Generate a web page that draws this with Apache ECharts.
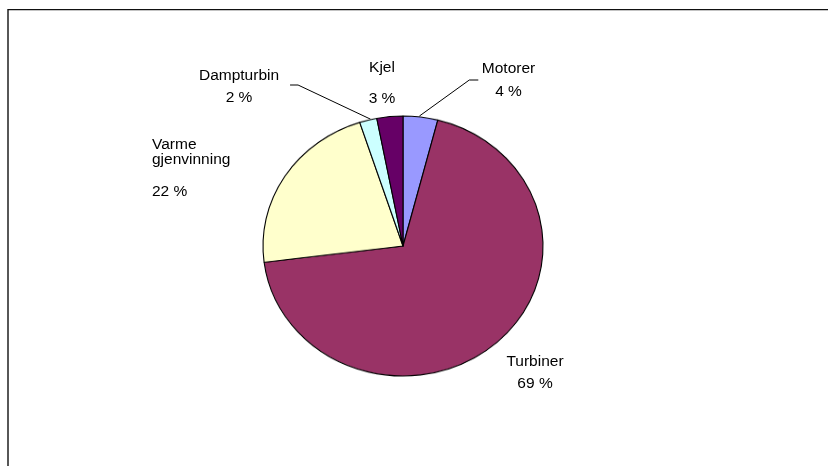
<!DOCTYPE html>
<html>
<head>
<meta charset="utf-8">
<script src="https://cdn.jsdelivr.net/npm/echarts@6/dist/echarts.min.js"></script>
<style>
  html, body { margin: 0; padding: 0; background: #ffffff; }
  #wrap { position: relative; width: 828px; height: 466px; overflow: hidden; }
  /* The sector layer is squeezed vertically so the pie becomes an ellipse */
  #pie { position: absolute; left: 0; top: 0; width: 828px; height: 466px;
         transform-origin: 403px 246px; transform: scaleY(0.9286); }
  #labels { position: absolute; left: 0; top: 0; width: 828px; height: 466px; }
</style>
</head>
<body>
<div id="wrap">
  <div id="pie"></div>
  <div id="labels"></div>
</div>
<script>
// Energy share by plant type, clockwise from 12 o'clock
const categories = ['Motorer', 'Turbiner', 'Varme gjenvinning', 'Dampturbin', 'Kjel'];
const shares = [4, 69, 22, 2, 3];
const colors = ['#9999FF', '#993366', '#FFFFCC', '#CCFFFF', '#660066'];

// Label placement (centre of text block), alignment, line spacing and leader side
const labelPlacement = [
  { x: 508.5, y: 80,    align: 'center', lh: [23.4, 23.4], leader: 'left' },
  { x: 535,   y: 372.5, align: 'center', lh: [21.7, 21.7] },
  { x: 152,   y: 176.5, align: 'left',   lh: [15, 49], width: 85 },
  { x: 239,   y: 86.5,  align: 'center', lh: [22, 22], leader: 'right' },
  { x: 382,   y: 83,    align: 'center', lh: [31, 31] }
];

const CX = 403, CY = 246;
const fontFamily = '"Liberation Sans", Arial, Helvetica, sans-serif';

// Sector layer
const pieChart = echarts.init(document.getElementById('pie'), null, { renderer: 'canvas' });
pieChart.setOption({
  animation: false,
  series: [{
    type: 'pie',
    center: [CX, CY],
    radius: 140,
    startAngle: 90,
    clockwise: true,
    silent: true,
    label: { show: false },
    labelLine: { show: false },
    itemStyle: { borderColor: '#000000', borderWidth: 1.1 },
    data: categories.map((name, i) => ({
      name: name,
      value: shares[i],
      itemStyle: { color: colors[i] }
    }))
  }]
});

// Label layer: same data on transparent sectors so labels follow the pie layout
const labelChart = echarts.init(document.getElementById('labels'), null, { renderer: 'canvas' });
labelChart.setOption({
  animation: false,
  graphic: [{
    type: 'polyline',
    silent: true,
    shape: { points: [[8, 466], [8, 9.6], [828, 9.6]] },
    style: { stroke: '#111111', lineWidth: 1.4, fill: null }
  }],
  series: [{
    type: 'pie',
    center: [CX, CY],
    radius: 131,
    startAngle: 90,
    clockwise: true,
    silent: true,
    avoidLabelOverlap: false,
    itemStyle: { color: 'rgba(0,0,0,0)', borderWidth: 0 },
    label: {
      show: true,
      position: 'outside',
      color: '#000000',
      fontFamily: fontFamily,
      fontSize: 15.5,
      formatter: '{n|{b}}\n{v|{c} %}'
    },
    labelLine: {
      show: true,
      lineStyle: { color: '#000000', width: 1 }
    },
    labelLayout: function (params) {
      const p = labelPlacement[params.dataIndex];
      const out = { x: p.x, y: p.y, align: p.align, verticalAlign: 'middle' };
      const pts = params.labelLinePoints;
      if (pts && p.leader) {
        const w = params.labelRect.width;
        const start = pts[0];
        if (p.leader === 'left') {
          const endX = p.x - w / 2 - 3.5, ly = p.y;
          out.labelLinePoints = [start, [endX - 9, ly], [endX, ly]];
        } else {
          const endX = p.x + w / 2 + 11, ly = p.y - 1.5;
          out.labelLinePoints = [start, [endX + 8, ly], [endX, ly]];
        }
      }
      return out;
    },
    data: categories.map((name, i) => {
      const p = labelPlacement[i];
      const label = {
        align: p.align,
        rich: {
          n: { fontFamily: fontFamily, fontSize: 15.5, color: '#000', lineHeight: p.lh[0], align: p.align },
          v: { fontFamily: fontFamily, fontSize: 15.5, color: '#000', lineHeight: p.lh[1], align: p.align }
        }
      };
      if (p.width) { label.width = p.width; label.overflow = 'break'; }
      return {
        name: name,
        value: shares[i],
        label: label,
        labelLine: { show: !!p.leader }
      };
    })
  }]
});
</script>
</body>
</html>
